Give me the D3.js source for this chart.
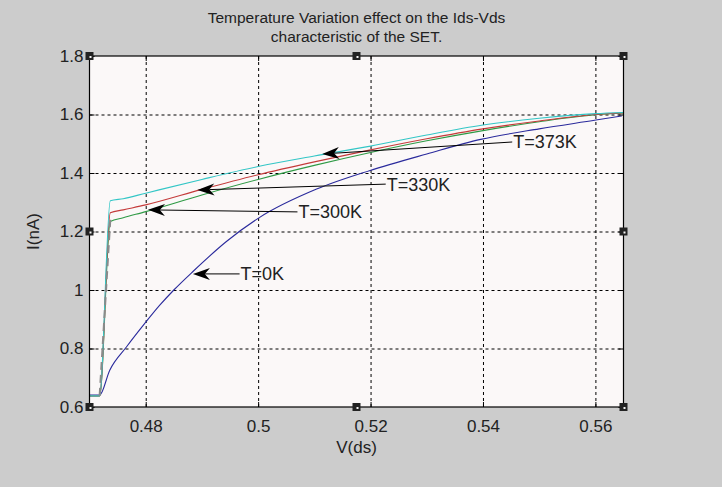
<!DOCTYPE html>
<html>
<head>
<meta charset="utf-8">
<script src="https://cdn.jsdelivr.net/npm/d3@7"></script>
<style>
  body { margin: 0; background: #cccccc; }
  svg { display: block; font-family: "Liberation Sans", Arial, sans-serif; }
</style>
</head>
<body>
<div id="chart"></div>
<script>
// values
const vds373 = [0.470, 0.4718, 0.4737, 0.476, 0.480, 0.490, 0.500, 0.510, 0.520, 0.530, 0.540, 0.550, 0.560, 0.565];
const ids373 = [0.638, 0.638, 1.305, 1.312, 1.331, 1.378, 1.422, 1.458, 1.492, 1.530, 1.564, 1.587, 1.603, 1.607];

const vds330 = [0.470, 0.4718, 0.4737, 0.476, 0.480, 0.490, 0.500, 0.510, 0.520, 0.530, 0.540, 0.550, 0.560, 0.565];
const ids330 = [0.638, 0.638, 1.264, 1.274, 1.291, 1.344, 1.394, 1.438, 1.479, 1.517, 1.551, 1.578, 1.600, 1.606];

const vds300 = [0.470, 0.4718, 0.4737, 0.476, 0.480, 0.490, 0.500, 0.510, 0.520, 0.530, 0.540, 0.550, 0.560, 0.565];
const ids300 = [0.638, 0.638, 1.234, 1.247, 1.268, 1.325, 1.378, 1.426, 1.470, 1.510, 1.545, 1.575, 1.599, 1.605];

const vds0 = [0.470, 0.4718, 0.4736, 0.4766, 0.4798, 0.4825, 0.4850, 0.4885, 0.4943, 0.500, 0.5104, 0.5198, 0.530, 0.5396, 0.550, 0.5601, 0.5647];
const ids0 = [0.641, 0.641, 0.726, 0.806, 0.885, 0.948, 1.000, 1.065, 1.165, 1.245, 1.345, 1.408, 1.465, 1.515, 1.551, 1.581, 1.595];

// dashed gray trace over the jump
const jumpV = [0.4718, 0.4737];
const jumpI = [0.638, 1.24];

const xTicks = [0.48, 0.5, 0.52, 0.54, 0.56];
const yTicks = [0.6, 0.8, 1, 1.2, 1.4, 1.6, 1.8];

// annotation arrows: tip (v, i), tail (v, i), label
const noteLabels = ["T=373K", "T=330K", "T=300K", "T=0K"];
const noteTipV = [0.5114, 0.4892, 0.4804, 0.4884];
const noteTipI = [1.465, 1.342, 1.274, 1.055];
const noteTailV = [0.5452, 0.5227, 0.5070, 0.4967];
const noteTailI = [1.506, 1.362, 1.267, 1.055];

const width = 722, height = 487;

const svg = d3.select("#chart")
    .append("svg")
    .attr("width", width)
    .attr("height", height);

svg.append("rect")
    .attr("width", width)
    .attr("height", height)
    .attr("fill", "#cccccc");

const x = d3.scaleLinear().domain([0.47, 0.565]).range([89.5, 623.5]);
const y = d3.scaleLinear().domain([0.6, 1.8]).range([407, 56]);

const pLeft = x.range()[0], pRight = x.range()[1];
const pTop = y.range()[1], pBottom = y.range()[0];

// plot background
svg.append("rect")
    .attr("x", pLeft)
    .attr("y", pTop)
    .attr("width", pRight - pLeft)
    .attr("height", pBottom - pTop)
    .attr("fill", "#fbf8f8");

// grid
svg.append("g")
    .attr("transform", `translate(0,${pBottom})`)
    .call(d3.axisBottom(x).tickValues(xTicks).tickSize(-(pBottom - pTop)).tickFormat(""))
    .call(g => g.select(".domain").remove())
    .selectAll("line")
    .attr("class", "grid")
    .attr("stroke", "#000")
    .attr("stroke-dasharray", "3,3");

svg.append("g")
    .attr("transform", `translate(${pLeft},0)`)
    .call(d3.axisLeft(y).tickValues(yTicks.slice(1, -1)).tickSize(-(pRight - pLeft)).tickFormat(""))
    .call(g => g.select(".domain").remove())
    .selectAll("line")
    .attr("class", "grid")
    .attr("stroke", "#000")
    .attr("stroke-dasharray", "3,3");

// curves
const line = d3.line()
    .x(d => x(d[0]))
    .y(d => y(d[1]))
    .curve(d3.curveMonotoneX);

const series = [
    { v: vds0, i: ids0, color: "#2a2a9c" },
    { v: vds300, i: ids300, color: "#2e9a45" },
    { v: vds330, i: ids330, color: "#c43a3a" },
    { v: vds373, i: ids373, color: "#33c6c6" }
];

series.forEach(s => {
    svg.append("path")
        .datum(d3.zip(s.v, s.i))
        .attr("fill", "none")
        .attr("stroke", s.color)
        .attr("stroke-width", 1.1)
        .attr("d", line);
});

svg.append("path")
    .datum(d3.zip(jumpV, jumpI))
    .attr("fill", "none")
    .attr("stroke", "#8a8a8a")
    .attr("stroke-width", 2)
    .attr("stroke-dasharray", "8,5")
    .attr("d", d3.line().x(d => x(d[0])).y(d => y(d[1])));

// axes box and inward ticks
const fmt = d => String(d);

const xAxisG = svg.append("g")
    .attr("transform", `translate(0,${pBottom})`)
    .call(d3.axisBottom(x).tickValues(xTicks).tickSize(-5).tickPadding(13).tickFormat(fmt));
xAxisG.select(".domain").remove();

svg.append("g")
    .attr("transform", `translate(0,${pTop})`)
    .call(d3.axisTop(x).tickValues(xTicks).tickSize(-5).tickFormat(""))
    .select(".domain").remove();

const yAxisG = svg.append("g")
    .attr("transform", `translate(${pLeft},0)`)
    .call(d3.axisLeft(y).tickValues(yTicks).tickSize(-5).tickPadding(6).tickFormat(fmt));
yAxisG.select(".domain").remove();

svg.append("g")
    .attr("transform", `translate(${pRight},0)`)
    .call(d3.axisRight(y).tickValues(yTicks).tickSize(-5).tickFormat(""))
    .select(".domain").remove();

svg.selectAll(".tick line:not(.grid)").attr("stroke", "#000");

svg.selectAll(".tick text")
    .attr("fill", "#222")
    .style("font-size", "17px");

svg.append("rect")
    .attr("x", pLeft)
    .attr("y", pTop)
    .attr("width", pRight - pLeft)
    .attr("height", pBottom - pTop)
    .attr("fill", "none")
    .attr("stroke", "#000")
    .attr("stroke-width", 1.2);

// selection handles
const hx = [pLeft, (pLeft + pRight) / 2, pRight];
const hy = [pTop, (pTop + pBottom) / 2, pBottom];
hx.forEach((px, a) => hy.forEach((py, b) => {
    if (a === 1 && b === 1) return;
    svg.append("rect")
        .attr("x", px - 4)
        .attr("y", py - 4)
        .attr("width", 8)
        .attr("height", 8)
        .attr("fill", "#222");
    svg.append("rect")
        .attr("x", px)
        .attr("y", py)
        .attr("width", 2)
        .attr("height", 2)
        .attr("fill", "#f4f4f4");
}));

// annotations
noteLabels.forEach((label, k) => {
    const x1 = x(noteTailV[k]), y1 = y(noteTailI[k]);
    const x2 = x(noteTipV[k]), y2 = y(noteTipI[k]);
    const ang = Math.atan2(y2 - y1, x2 - x1);
    const L = 17, W = 6;
    const bx = x2 - L * Math.cos(ang), by = y2 - L * Math.sin(ang);
    const nx = -Math.sin(ang), ny = Math.cos(ang);
    const mx = x2 - L * 0.7 * Math.cos(ang), my = y2 - L * 0.7 * Math.sin(ang);

    svg.append("line")
        .attr("x1", x1).attr("y1", y1)
        .attr("x2", mx).attr("y2", my)
        .attr("stroke", "#000")
        .attr("stroke-width", 1);

    svg.append("path")
        .attr("d", `M${x2},${y2}L${bx + nx * W},${by + ny * W}L${mx},${my}L${bx - nx * W},${by - ny * W}Z`)
        .attr("fill", "#000");

    svg.append("text")
        .attr("x", x1 + 1)
        .attr("y", y1)
        .attr("dy", "0.36em")
        .attr("fill", "#222")
        .style("font-size", "18px")
        .text(label);
});

// title and axis labels
svg.append("text")
    .attr("x", (pLeft + pRight) / 2)
    .attr("y", 23)
    .attr("text-anchor", "middle")
    .attr("fill", "#222")
    .style("font-size", "15.5px")
    .text("Temperature Variation effect on the Ids-Vds");

svg.append("text")
    .attr("x", (pLeft + pRight) / 2)
    .attr("y", 42)
    .attr("text-anchor", "middle")
    .attr("fill", "#222")
    .style("font-size", "15.5px")
    .text("characteristic of the SET.");

svg.append("text")
    .attr("x", (pLeft + pRight) / 2)
    .attr("y", 453)
    .attr("text-anchor", "middle")
    .attr("fill", "#222")
    .style("font-size", "17px")
    .text("V(ds)");

svg.append("text")
    .attr("transform", `translate(39,${(pTop + pBottom) / 2}) rotate(-90)`)
    .attr("text-anchor", "middle")
    .attr("fill", "#222")
    .style("font-size", "17px")
    .text("I(nA)");
</script>
</body>
</html>
